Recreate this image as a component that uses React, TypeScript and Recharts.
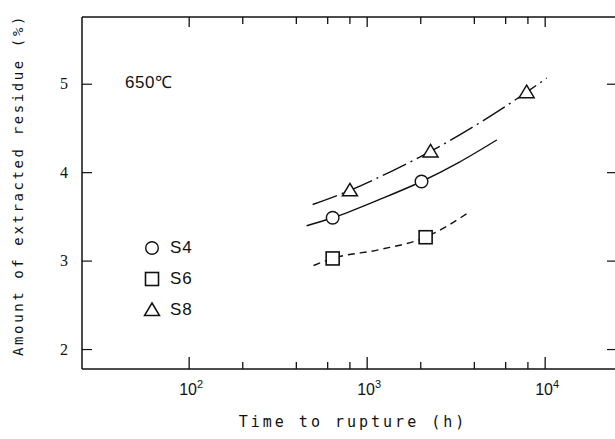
import { ComposedChart, Line, Scatter, XAxis, YAxis, Legend } from 'recharts'

// measured points (time to rupture in h, residue in %)
const s4Time = [640, 2020]
const s4Residue = [3.49, 3.9]
const s6Time = [640, 2130]
const s6Residue = [3.03, 3.27]
const s8Time = [800, 2270, 7870]
const s8Residue = [3.8, 4.24, 4.91]

// trend curves
const s4CurveTime = [457, 640, 1150, 2020, 3300, 5350]
const s4CurveResidue = [3.4, 3.49, 3.69, 3.9, 4.12, 4.37]
const s6CurveTime = [500, 640, 1175, 2130, 3720]
const s6CurveResidue = [2.95, 3.03, 3.13, 3.27, 3.55]
const s8CurveTime = [494, 800, 1350, 2270, 4180, 7870, 10200]
const s8CurveResidue = [3.64, 3.8, 4.01, 4.24, 4.55, 4.91, 5.07]

const xTicks = [100, 200, 400, 600, 800, 1000, 2000, 4000, 6000, 8000, 10000]
const majorX = [100, 1000, 10000]
const yTicks = [2, 3, 4, 5]
const seriesNames = ['S4', 'S6', 'S8']
const tempLabel = '650℃'

const toRows = (t: number[], v: number[]) => t.map((time, i) => ({ t: time, v: v[i] }))

const INK = '#111'

function Marker({ kind, cx, cy }: { kind: string; cx: number; cy: number }) {
  if (kind === 'S4') {
    return <circle cx={cx} cy={cy} r={6.3} fill="#fff" stroke={INK} strokeWidth={1.4} />
  }
  if (kind === 'S6') {
    return <rect x={cx - 6.5} y={cy - 6.5} width={13} height={13} fill="#fff" stroke={INK} strokeWidth={1.6} />
  }
  return (
    <path
      d={`M${cx},${cy - 7} L${cx + 7.5},${cy + 5.5} L${cx - 7.5},${cy + 5.5} Z`}
      fill="#fff"
      stroke={INK}
      strokeWidth={1.5}
    />
  )
}

function BottomTick(props: any) {
  const { x, y, payload } = props
  const major = majorX.includes(payload.value)
  const exp = Math.round(Math.log10(payload.value))
  return (
    <g>
      <line x1={x} x2={x} y1={y} y2={y - (major ? 12 : 7)} stroke={INK} strokeWidth={1.3} />
      {major && (
        <text x={x + 2} y={y + 26} textAnchor="middle" fontFamily="'Liberation Sans', Arial" fontSize={16} fill={INK}>
          10
          <tspan dy={-7} fontSize={11}>
            {exp}
          </tspan>
        </text>
      )}
    </g>
  )
}

function TopTick(props: any) {
  const { x, y, payload } = props
  const major = majorX.includes(payload.value)
  return <line x1={x} x2={x} y1={y} y2={y + (major ? 10 : 7)} stroke={INK} strokeWidth={1.3} />
}

function LeftTick(props: any) {
  const { x, y, payload } = props
  return (
    <g>
      <line x1={x} x2={x + 10} y1={y} y2={y} stroke={INK} strokeWidth={1.2} />
      <text x={x - 14} y={y} dy={5} textAnchor="end" fontFamily="'Liberation Serif', serif" fontSize={16} fill={INK}>
        {payload.value}
      </text>
    </g>
  )
}

function RightTick(props: any) {
  const { x, y } = props
  return <line x1={x} x2={x - 9} y1={y} y2={y} stroke={INK} strokeWidth={1.2} />
}

function XTitle(props: any) {
  const { viewBox } = props
  return (
    <text
      x={viewBox.x + viewBox.width / 2 + 4}
      y={viewBox.y + 58}
      textAnchor="middle"
      fontFamily="'DejaVu Sans Mono', monospace"
      fontSize={15}
      letterSpacing={3}
      fill={INK}
    >
      Time to rupture (h)
    </text>
  )
}

function YTitle(props: any) {
  const { viewBox } = props
  const cx = viewBox.x + 18
  const cy = viewBox.y + viewBox.height / 2 - 8
  return (
    <text
      x={cx}
      y={cy}
      transform={`rotate(-90 ${cx} ${cy})`}
      textAnchor="middle"
      dominantBaseline="central"
      fontFamily="'DejaVu Sans Mono', monospace"
      fontSize={14}
      letterSpacing={2.6}
      fill={INK}
    >
      Amount of extracted residue (%)
    </text>
  )
}

function LegendBox() {
  return (
    <div style={{ fontFamily: "'Liberation Sans', Arial", fontSize: 17, color: INK }}>
      {seriesNames.map((name) => (
        <div key={name} style={{ display: 'flex', alignItems: 'center', height: 31 }}>
          <svg width={26} height={20}>
            <Marker kind={name} cx={12} cy={10} />
          </svg>
          <span style={{ marginLeft: 4, letterSpacing: 1 }}>{name}</span>
        </div>
      ))}
    </div>
  )
}

export default function App() {
  const axisLine = { stroke: INK, strokeWidth: 1.5 }
  return (
    <div style={{ position: 'absolute', left: 0, top: 0, width: 615, height: 439, overflow: 'hidden', background: '#fff' }}>
      <div
        style={{
          position: 'absolute',
          left: 125,
          top: 73,
          fontFamily: "'Liberation Sans', Arial",
          fontSize: 17,
          letterSpacing: 0.5,
          color: INK,
          lineHeight: '20px',
          zIndex: 2,
        }}
      >
        {tempLabel}
      </div>
      <ComposedChart width={640} height={439} margin={{ top: 0, right: 0, bottom: 0, left: 0 }}>
        <XAxis
          xAxisId="b"
          dataKey="t"
          type="number"
          scale="log"
          domain={[25, 25000]}
          allowDataOverflow
          ticks={xTicks}
          interval={0}
          tickSize={0}
          tickMargin={0}
          tick={(p: any) => <BottomTick {...p} />}
          tickLine={false}
          axisLine={axisLine}
          height={70}
          label={<XTitle />}
        />
        <XAxis
          xAxisId="top"
          orientation="top"
          dataKey="t"
          type="number"
          scale="log"
          domain={[25, 25000]}
          allowDataOverflow
          ticks={xTicks}
          interval={0}
          tickSize={0}
          tickMargin={0}
          tick={(p: any) => <TopTick {...p} />}
          tickLine={false}
          axisLine={axisLine}
          height={17}
        />
        <YAxis
          yAxisId="l"
          type="number"
          domain={[1.78, 5.76]}
          allowDataOverflow
          ticks={yTicks}
          interval={0}
          tickSize={0}
          tickMargin={0}
          tick={(p: any) => <LeftTick {...p} />}
          tickLine={false}
          axisLine={axisLine}
          width={82}
          label={<YTitle />}
        />
        <YAxis
          yAxisId="r"
          orientation="right"
          type="number"
          domain={[1.78, 5.76]}
          allowDataOverflow
          ticks={yTicks}
          interval={0}
          tickSize={0}
          tickMargin={0}
          tick={(p: any) => <RightTick {...p} />}
          tickLine={false}
          axisLine={axisLine}
          width={24}
        />
        <Legend
          layout="horizontal"
          verticalAlign="middle"
          align="center"
          wrapperStyle={{ left: 140, top: 232, width: 80, height: 93 }}
          content={() => <LegendBox />}
        />
        <Line
          xAxisId="b"
          yAxisId="l"
          data={toRows(s4CurveTime, s4CurveResidue)}
          dataKey="v"
          type="monotone"
          stroke={INK}
          strokeWidth={1.4}
          dot={false}
          activeDot={false}
          legendType="none"
          isAnimationActive={false}
        />
        <Line
          xAxisId="b"
          yAxisId="l"
          data={toRows(s6CurveTime, s6CurveResidue)}
          dataKey="v"
          type="monotone"
          stroke={INK}
          strokeWidth={1.4}
          strokeDasharray="7 5"
          dot={false}
          activeDot={false}
          legendType="none"
          isAnimationActive={false}
        />
        <Line
          xAxisId="b"
          yAxisId="l"
          data={toRows(s8CurveTime, s8CurveResidue)}
          dataKey="v"
          type="monotone"
          stroke={INK}
          strokeWidth={1.4}
          strokeDasharray="26 5 2 5"
          dot={false}
          activeDot={false}
          legendType="none"
          isAnimationActive={false}
        />
        <Scatter
          xAxisId="b"
          yAxisId="l"
          name="S4"
          data={toRows(s4Time, s4Residue)}
          dataKey="v"
          shape={(p: any) => <Marker kind="S4" cx={p.cx} cy={p.cy} />}
          isAnimationActive={false}
        />
        <Scatter
          xAxisId="b"
          yAxisId="l"
          name="S6"
          data={toRows(s6Time, s6Residue)}
          dataKey="v"
          shape={(p: any) => <Marker kind="S6" cx={p.cx} cy={p.cy} />}
          isAnimationActive={false}
        />
        <Scatter
          xAxisId="b"
          yAxisId="l"
          name="S8"
          data={toRows(s8Time, s8Residue)}
          dataKey="v"
          shape={(p: any) => <Marker kind="S8" cx={p.cx} cy={p.cy} />}
          isAnimationActive={false}
        />
      </ComposedChart>
    </div>
  )
}
